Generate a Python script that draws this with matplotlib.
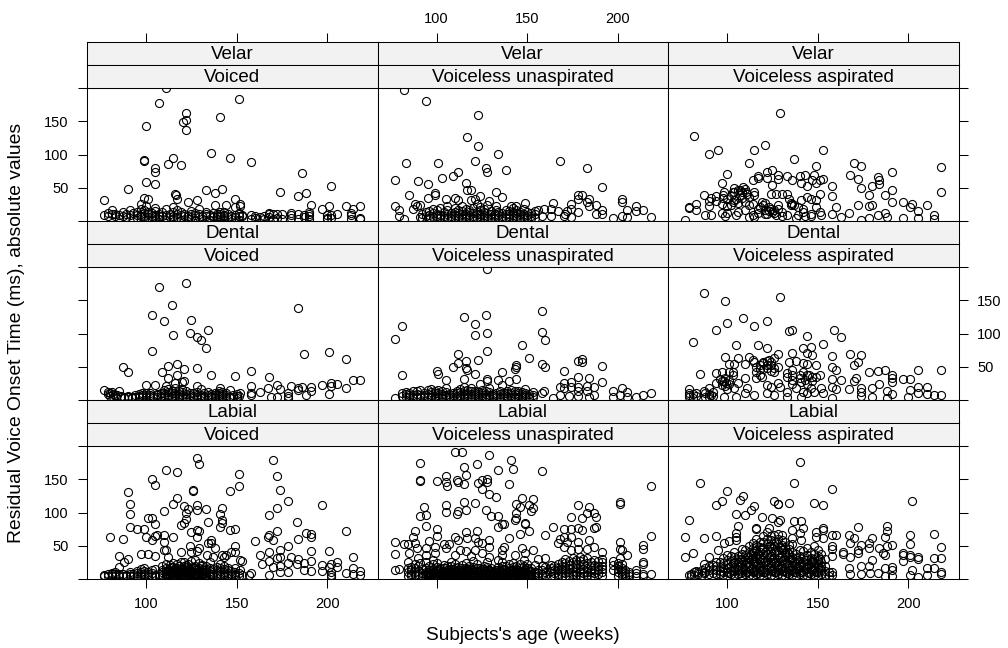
import matplotlib
matplotlib.use('Agg')
import matplotlib.pyplot as plt

plt.rcParams['font.family'] = ['Liberation Sans', 'DejaVu Sans']

places = ['Velar', 'Dental', 'Labial']
voicing = ['Voiced', 'Voiceless unaspirated', 'Voiceless aspirated']
x_ticks = [100, 150, 200]
y_ticks = [0, 50, 100, 150, 200]
y_labels = ['', '50', '100', '150', '']

velar_voiced = [(111,199.5),(107,178),(151,184),(122,162),(122,152),(120.6,149),(122,137),(141,157),(100,143.5),(136,103),(146,94.5),(158,89),(99,91),(99,90),(115,94),(112,85),(119,84),(105,79),(105,74),(186,71.5),(100,58),(105,55.5),(90,47.5),(133,46.5),(138,42.5),(142,48),(174,44),(188,42.5),(184,37.5),(202,52.5),(116,41),(116.4,39),(77,32),(99,35),(101,33.5),(149,33),(117,33),(123,29),(128,31),(97,26),(100,23),(138,23.5),(144,23.5),(149,21),(152,25),(152,22.5),(191,24),(210,22.5),(218,23),(201,22.5),(214,17.5),(197,17.5)]
velar_voiced_band = {77:[9],79:[8,12],81:[10,17],83:[7,11],85:[3,9],87:[8,13],89:[6,11],91:[9,16],93:[3,12],95:[5,9,13],97:[7,11,18],99:[3,8,12,16],101:[6,10,14],103:[2,8,12],105:[6,9,15,19],107:[3,8,11],109:[7,13],111:[2,9,18],113:[6,10],115:[3,8,14,21],117:[6,11,16],119:[2,9,13],121:[7,10],123:[3,8],125:[6,11,15],127:[2,9,12],129:[6,10,18],131:[3,8],133:[7,11,14],135:[2,9],137:[6,8,12],139:[3,7,10],141:[6,8,11,14],143:[2,7,9,13],145:[6,10],147:[3,7],149:[6,9],151:[2,8,12],153:[7,9],158:[3,9],160:[5,8],163:[6],165:[3,8],168:[6,10,12],170:[3,11],172:[5,11],175:[3,10],180:[5,9,12],184:[3,10],187:[6,9],190:[3,8,11,14],200:[5,3,9],202:[9,4],205:[10],213:[3,9,12],218:[5,3]}

velar_unasp = [(82,197.5),(94,180),(123,160),(117,127),(123,112.5),(134,101),(121,90.5),(127,79.5),(128,73),(138,77),(101,87.5),(83,86.5),(168,90),(183,80),(112,74),(109,67),(103,65),(77,62),(90,60),(95,55.5),(116,56.5),(117,46.5),(119,46.5),(191,51),(133,43.5),(85,39),(99,42.5),(99,38.5),(136,35.5),(124,37),(95,34),(105,32.5),(110,34),(112,31),(119,31),(121,33.5),(129,29.5),(178,39.5),(180,39.5),(184,32.5),(183,28.5),(178,32.5),(164,27),(174,26),(149,27),(202,32.5),(202,28.5),(210,22.5),(214,17),(210,15),(205,16.5),(188,24.5),(184,22),(191,16),(191,11),(188,10),(77,22.5),(79,17),(79,8),(88,26),(89,22),(91,23.5),(87,18.5),(91,6),(82,3.5),(178,13),(174,18.5),(174,6),(171,11),(170,7),(172,15),(163,18.5),(163,7),(167,14.5),(159,18.5),(156,16),(158,7),(141,22),(144,23),(133,23),(133,17),(218,5.5),(202,7),(205,5.5),(197,4)]
velar_unasp_band = {92:[5,10],94:[8,14],96:[4,9,15],98:[6,12,18],100:[4,7,11,16],102:[5,9,20],104:[4,8,13],106:[5,10,17,23],108:[4,7,12],110:[5,9,14,19],112:[4,8,12,16],114:[5,10,15,22],116:[4,7,11,18],118:[5,9,13,17],120:[4,8,12,20],122:[5,10,14,25],124:[4,7,11,16,21],126:[5,9,13,18],128:[4,8,12,24],130:[5,10,15],132:[4,7,11],134:[5,9,13],136:[4,8,12],138:[5,10,17],140:[4,7,11,15],142:[5,9,13,19],144:[4,8,12,16],146:[5,10,14],148:[4,7,11,18],150:[5,9,13],152:[4,8,12],154:[5,10,15]}

velar_asp = [(129,163),(82,128),(90,100.5),(95,107),(115,107),(121,114),(153,107),(112,87),(137,93),(170,87),(174,82),(149,82.5),(218,81.5),(191,73.5),(100,71),(97,57.5),(125,76),(122,73),(117,68),(117,64.5),(122,65),(114,61),(128,69),(128,62.5),(133,68),(136,61),(140,68),(143,68.5),(141,57.5),(148,68.5),(147,61),(151,61),(153,63),(149,57),(144,52),(125,53.5),(168,68.5),(172,63.5),(174,49.5),(178,39),(183,66),(184,61),(184,55.5),(180,52),(191,47),(187,39),(191,29),(197,28),(202,26),(201,21),(205,15.5),(210,24.5),(214,9.5),(218,44),(158,52),(158,38),(151,41),(160,20.5),(158,10.5),(167,12),(172,24.5),(178,22.5),(180,23.5),(187,12.5),(183,8.5),(188,6),(197,4.5),(205,4.5),(214,2.5),(174,1),(178,5),(163,5.5),(77,2),(79,21),(79,19),(83,25.5),(83,17),(88,9),(91,9.5),(87,39),(91,35),(94,37),(90,22),(90,30),(94,30),(98,38.5),(98.5,43.5),(97,25),(98,35),(97,12),(99,7),(100,12),(103,43.5),(104,50),(107,46),(109,51),(110,48.5),(110.5,43.5),(111,41),(115,43.5),(115,38.5),(103,28.5),(105,33.5),(107,38.5),(110,28.5),(110,16),(105,8.5),(114,26),(119,28.5),(120,23.5),(118,21),(121,16),(114,8.5),(115,6),(124,41),(127,41),(130,41),(133,41),(134,33.5),(136,26),(137,23.5),(141,31),(144,36),(146,33.5),(149,31),(128,23.5),(128,18.5),(124,18.5),(125,13.5),(122,11),(127,8.5),(133,8.5),(138,5),(142,18.5),(142,13.5),(143,7),(146,11),(149,21),(151,13.5),(152,8.5),(146,7)]
velar_asp_band = {100:[33,22],102:[38,24],104:[44,31],106:[47,27,14],108:[44,35],112:[36,24,6],117:[18,12],121:[27,11],123:[21,15],126:[16,12],130:[13,8],135:[27,24],139:[21,9]}

dental_voiced = [(122,176.5),(107,170.5),(114,143),(184,138.5),(103,128),(110,118.5),(125,120),(134,106),(115,97),(124,100.5),(128,94.5),(130,89.5),(133,78.5),(103,73.5),(187,69),(201,71.5),(210,61.5),(87,49),(90,41.5),(112,51),(117,54.5),(109,42.5),(121,46),(128,47.5),(112,33.5),(117,37.5),(136,37),(149,36),(158,43.5),(168,35),(121,28),(120,27.5),(116,26),(100,23),(105,22),(111,21),(128,21),(130,16),(141,18),(146,15),(158,20.5),(167,18),(172,23),(174,16.5),(180,21),(184,18),(184,15),(186,19.5),(191,19.5),(191,14),(197,23),(202,26),(205,24.5),(202,21),(210,18),(214,29.5),(218,30.5),(201,8.5),(163,11.5),(178,10),(178,6),(188,7.5),(169,4),(172,5),(178,3.5),(158,10),(158,7),(152,10),(151,6),(77,15.5),(79,12.5),(81,12.5),(85,14),(79,8.5),(83,7.5)]
dental_voiced_band = {80:[6,10],82:[5,9],84:[7],86:[4,6],88:[3,5],90:[4,6],92:[3,5],94:[5,7],96:[4,6,9],98:[5,8,11],100:[4,7,10],102:[5,8,11],104:[3,6],106:[4,7,9],108:[3,6,11],110:[4,7,10,15],112:[5,8,12,17],114:[3,6,10,14],116:[4,7,11,18],118:[3,6,9,13],120:[4,8,12,16],122:[3,5,9,14],124:[4,7,11],126:[3,6,10],128:[4,7,12],130:[3,5,8],132:[4,6,10],134:[3,7,12],136:[4,6,9],138:[3,5,8,11],140:[4,7,10,13],142:[3,6,9,12],144:[4,7,10],146:[3,5],148:[4,7],150:[3,6,9]}

dental_unasp = [(128,196.5),(158,133.5),(115,125.5),(127,128.5),(121,114.5),(81,111.5),(77,91),(121,98),(128,100.5),(158,102),(160,90),(147,83),(128,73.5),(112,69),(151,62.5),(123,59.5),(112,55.5),(116,58),(109,50),(116,47.5),(117,45),(100,44),(101,39),(81,38),(121,39),(144,52.5),(144,49),(143,46),(136,42.5),(158,54),(160,49),(170,43.5),(178,59),(180,61),(180,57.5),(191,50.5),(105,30),(115,31.5),(128,31.5),(128,29),(134,30),(140,29),(144,31.5),(124,23.5),(136,22),(178,34),(184,32.5),(174,27.5),(170,25),(168,20),(191,26.5),(187,20),(183,21),(178,20),(174,20),(178,13),(183,14),(170,17.5),(168,7.5),(173,6.5),(178,6.5),(184,5),(187,7.5),(197,13),(202,17.5),(205,12),(218,10.5),(214,7),(210,5),(197,4),(201,7.5),(205,5),(164,2.5),(158,11),(159,13.5),(149,17),(153,12)]
dental_unasp_band = {77:[3],81:[6,10],83:[5,9,12],85:[4,8,11],87:[5,7,13],89:[4,9,14],91:[5,8,15],93:[4,7,11],95:[5,9,15],97:[4,8,12,16],99:[3,6,10,14],101:[4,7,11,15],103:[3,6,9,13],105:[4,8,12,18],107:[3,5,9],109:[4,7,11],111:[3,6,10,14],113:[4,8,12,16],115:[3,6,9,13,19],117:[4,7,11,15],119:[3,5,9,13,18],121:[4,7,10,14],123:[3,6,9,12],125:[4,7,11,15],127:[3,5,9,13],129:[4,8,12,18],131:[3,6,9],133:[4,7,11],135:[3,5,9,14],137:[4,8,11],139:[3,6,10,13],141:[4,7,11,15],143:[3,5,9,13],145:[4,7,10,14],147:[3,6,9,12],149:[4,7,11],151:[3,5,9],153:[4,7]}

dental_asp = [(87,161.5),(99,149),(129,155.5),(109,123.5),(100,116),(94,106),(115,111.5),(122,118.5),(134,104.5),(136,105),(144,96.5),(159,106),(163,95),(81,86.5),(105,82),(117,82.5),(122,78.5),(153,84.5),(146,80),(142,78.5),(128,69.5),(136,71),(144,71),(147,67.5),(158,66.5),(168,69),(174,67.5),(99,65),(106,62.5),(112,64),(172,56.5),(170,52.5),(218,45.5),(205,44.5),(187,44.5),(183,43),(178,42.5),(85,38.5),(94,41),(97,41.5),(101,54),(104,54),(110,54.5),(114,60),(115,57.5),(120,57.5),(123,60),(124,52.5),(126,62.5),(128,50),(134,57.5),(138,58.5),(136,45),(133,40),(133,34),(142,55),(144,54),(149,52.5),(142,42.5),(145,37.5),(147,35),(151,37.5),(158,49),(160,45),(158,31),(163,30),(158,19),(160,16),(170,29),(171,32.5),(167,16.5),(191,37.5),(191,32.5),(191,26.5),(197,31.5),(201,31),(174,17.5),(174,12),(174,6),(180,17.5),(184,24),(188,14),(191,8.5),(201,15),(205,20),(210,20),(205,11),(210,8.5),(214,7.5),(218,7),(200,4),(180,4),(188,3.5),(158,2.5),(79,16),(79,7.5),(83,6),(87.5,14),(90,17.5),(91,7.5),(94,26),(96,31),(98.5,29),(99.5,25),(103,37.5),(103,42.5),(101,42.5),(110,33.5),(106,25),(104,17.5),(100,16),(98.5,4),(105,5),(110,10),(111,17.5),(115,7.5),(116,32.5),(118,37.5),(119,35),(122,22.5),(122,10),(124,20),(128,26),(129,20),(126,7.5),(133,12.5),(133,5),(136,30),(138,17.5),(141,27.5),(143,30),(142,12.5),(146,17.5),(144,10),(152,17.5),(153,11),(148,12.5),(141,4)]
dental_asp_band = {79:[4,11],81:[3,9],83:[10],88:[5,10],90:[4,9],92:[6,12],97:[22,28],99:[21,33],101:[24,30],116:[42,50],118:[46,53],120:[47,55],122:[48,52,58],124:[44,57],126:[42,48],136:[24,37],140:[33,38],144:[24,38],147:[28],149:[34]}

labial_voiced = [(128,182),(129,173.5),(111,164.5),(117,161),(103,150),(105,141.5),(170,179.5),(172,154.5),(151,157.5),(151,140),(146,132.5),(174,133.5),(126,133.5),(126,132.5),(90,130.5),(91,113),(91,98),(117,122.5),(115,113),(121,110.5),(128,111.5),(128,104.5),(133,105.5),(142,107),(123,106),(122,99.5),(110,103),(141,98),(178,117.5),(172,107),(168,95.5),(197,111),(101,92),(103,92),(105,82.5),(122,89.5),(121,84.5),(119,81),(134,85.5),(142,88.5),(142,83.5),(141,78),(183,85.5),(91,78),(95,74.5),(99,74.5),(125,71),(128,73.5),(129,72),(146,73),(149,75),(172,72),(210,72),(188,69),(191,67),(191,63),(184,60.5),(80,63),(87,60),(100,63),(103,58.5),(105,65),(106,66.5),(110,65.5),(115,63),(128,62.5),(110,55),(160,57),(167,63),(168,66),(170,58.5),(136,59),(134,53.5),(136,54.5),(138,47),(124,49),(129,46),(149,50),(149,41),(147,41),(178,49.5),(174,43.5),(168,41),(191,42.5),(201,42.5),(110,43),(111,43),(119,41),(125,41),(128,42.5),(97,37.5),(101,37.5),(105,34),(112,32.5),(85,34),(90,29.5),(88,25.5),(85,18.5),(133.5,36),(137,33.5),(142,36),(144,36),(143,33.5),(163,36),(172,31),(174,32.5),(180,32.5),(184,29.5),(191,27.5),(214,33.5),(152,28.5),(153,26.5),(168,27.5),(164,22),(170,18.5),(174,19.5),(178,24.5),(183,22),(187,23.5),(197,20.5),(205,25.5),(202,22.5),(201,18.5),(205,18.5),(214,16),(218,12),(210,9),(218,6.5),(214,7.5),(202,11),(202,6),(202,2.5),(197,12.5),(191,12.5),(187,13.5),(178,11),(174,10),(168,6),(158,9.5),(157,6.5),(152,13.5),(153,6)]
labial_voiced_band = {77:[4,6],79:[5,8],81:[4,7,9],83:[5,8,10],85:[4,7],87:[5,8],89:[4,6],91:[5,8,10],93:[4,7],95:[5,9,12],97:[4,7,11,15],99:[5,8,12,16],101:[4,7,10],103:[5,9,13],105:[4,6,15],107:[5,8],109:[6,10,14,19],111:[5,8,12,17,22],113:[4,7,11,16,21],115:[6,9,13,18,24],117:[5,8,12,16,22],119:[4,7,11,15,26],121:[6,10,14,19,25],123:[5,8,13,18,23],125:[4,7,11,16,27],127:[6,9,14,20,28],129:[5,8,12,17,24],131:[4,7,11,15,21],133:[6,10,14,19],135:[5,8,12,17,26],137:[4,7,11,15],139:[6,9,13,18],141:[5,8,12,16,22],143:[4,7,11,15,20],145:[6,9,13,17],147:[5,8,12],149:[4,7,11,16],151:[5,9],112:[3,7,13],114:[4,10,18],116:[3,9,15],118:[6,11,20],120:[3,8,16],122:[5,12,21],124:[3,9,14],126:[6,11,18],128:[3,8,15],130:[5,10,19],132:[3,9,13]}

labial_unasp = [(110,191.5),(114,191.5),(129,186.5),(141,178.5),(91,174.5),(122,173.5),(115,169),(142,165),(134,164),(158,162.5),(116,157),(105,155),(91,149.5),(91,148),(100,147),(105,146),(106,139.5),(111,149.5),(112,146),(115,143),(123,144),(125,149.5),(128,151),(128,146),(140,143),(125,136),(129,128),(133,124),(218,140.5),(147,122.5),(153,120),(115,116),(121,114.5),(144,113.5),(146,109),(151,111.5),(153,107.5),(152,102.5),(93,108),(105,111.5),(105,101.5),(116,104.5),(112,102.5),(111,98),(127,103.5),(201,116),(201,113.5),(178,111),(184,108),(183,99),(187,98.5),(188,93.5),(180,92),(174,93.5),(91,94.5),(94,95.5),(130,94),(134,94),(144,99.5),(144,92),(143,88.5),(136,82.5),(137,82.5),(134,78.5),(149,84.5),(149,83),(151,72),(164,78),(94,80),(100,75),(88,71.5),(87,63.5),(100,64),(116,70),(122,71.5),(117,61.5),(110,63),(121,62),(146,67),(140,61.5),(160,66),(170,75),(174,75),(178,76),(180,73),(187,76.5),(188,77.5),(170,63.5),(174,63.5),(178,56),(184,59),(168,59.5),(167,54),(172,56),(218,64.5),(201,55),(214,51),(214,44.5),(77,55),(77,37.5),(82,52),(84,52),(88,54.5),(96,57.5),(104,53),(112,58.5),(123,56),(125,54.5),(129,58.5),(129,47.5),(89,47),(94,47),(99,48.5),(105,46),(107,52),(113,43.5),(116,42),(121,43.5),(125,39.5),(137,48.5),(136,43.5),(147,47),(153,43.5),(149,39.5),(143,36),(85,39.5),(94,36),(99,38.5),(110,36),(136,36),(129,32.5),(119,34.5),(156,30),(160,31),(201,45),(202,43),(205,35.5),(201,31),(197,27.5),(191,41),(187,48.5),(183,45.5),(178,44.5),(170,47.5),(174,43.5),(214,25),(214,22.5),(84,26),(90,31),(91,24.5),(77,13),(79,14.5),(84,16)]
labial_unasp_band = {84:[5,10],86:[4,8,13,18],88:[6,11,16,22],90:[4,8,12,19],92:[5,9,15],94:[4,7,11,17,25],96:[5,8,13,20],98:[4,7,10,15,22,29],100:[5,9,13,18,24],102:[4,7,11,16],104:[5,8,12,17,21],106:[4,6,10,14,19],108:[5,8,11,15,20,26],110:[4,7,10,13,17,23],112:[5,8,11,14,18],114:[4,6,9,12,16,21],116:[5,7,10,13,17,24],118:[4,6,9,12,15,20],120:[5,8,11,14,18,27],122:[4,6,9,12,16,22],124:[5,7,10,13,17],126:[4,6,9,12,15,19],128:[5,8,11,14,18,25],130:[4,6,9,12,16],132:[5,7,10,14],134:[4,6,9,13,18,29],136:[5,8,11,15,20,26],138:[4,7,10,14,19],140:[5,8,12,16,22],142:[4,6,9,13,18,24],144:[5,7,11,15,20],146:[4,8,12,17,23],148:[5,7,10,14,19,28],150:[4,6,9,13,17,22],152:[5,8,12,16],154:[4,7,11,21],156:[5,9,14],158:[4,8,13,19],160:[5,10,18],163:[4,12,16,21],165:[5,9,14,19],167:[4,8,13,17,22],169:[5,10,15,20,26],171:[4,9,13,18,24,30],173:[5,10,16,21,27],175:[4,8,12,18,25,32],177:[6,11,16,22,29],179:[5,10,14,20,27,33],181:[4,9,15,22,30],183:[6,11,17,24,31],185:[5,10,13,19,26],187:[4,9,14,21,29],189:[7,13,20,27],191:[5,10,15,20,25,30],197:[14,21],200:[5,10,15,20,24],202:[4,8,12,17,22],204:[5,9,13],206:[4,7,11],210:[5,9,13],214:[4,8],218:[7],95:[3,6,10],97:[4,8,14],99:[3,6,11],101:[4,9,15],103:[3,7,12],105:[5,10,16],107:[3,7,13],109:[4,9,15],111:[3,6,12],113:[4,8,14],115:[3,6,11],117:[4,9,15],119:[3,7,13],121:[4,8,12],123:[3,6,11],125:[4,9,15],127:[3,7,12],129:[4,8,14],131:[3,6,11],133:[4,9,13],135:[3,7,12],137:[4,8,15],139:[3,6,11],141:[4,9,13],143:[3,7,12],145:[4,8,14],147:[3,6,11],149:[4,9,15],151:[3,7,12]}

labial_asp = [(140,176.5),(85,144),(137,145),(158,136),(100,132),(109,125.5),(107,118.5),(97,117.5),(94,111),(115,109.5),(113,103.5),(126,118),(128,113.5),(128,112.5),(134,114),(148,115),(153,111.5),(202,118),(105,97.5),(110,95.5),(119,93.5),(125,91),(129,88.5),(128,86),(137,87.5),(141,87.5),(79,88.5),(106,80),(116,77),(123,76),(116,75),(122,71),(136,73.5),(142,76),(140,69.5),(153,76),(153,73.5),(149,71),(172,77.5),(188,79.5),(188,72.5),(187,63.5),(77,63),(87,62),(94,65),(98.5,54.5),(101,57),(105,68.5),(105,63.5),(105,58.5),(158,66),(160,66),(153,61),(149,63.5),(141,58.5),(136,61),(167,66.5),(170,61),(180,61),(168,53.5),(174,51),(178,53.5),(178,46),(172,43.5),(172,38.5),(184,46),(188,49.5),(191,51),(187,36),(186,38.5),(201,66),(201,52),(214,67),(218,48.5),(164,41),(164,37.5),(168,33.5),(158,49.5),(158,44.5),(158,34.5),(77,32.5),(81,38.5),(90,32.5),(95,43.5),(197,38.5),(197,36),(197,27.5),(201,36),(201,33.5),(205,32.5),(205,29.5),(214,31),(218,31),(210,16),(214,16),(218,10),(218,7),(210,6),(202,13.5),(201,6),(205,3.5),(180,28.5),(178,19.5),(174,19.5),(167,16),(158,10),(158,6),(168,7),(174,7),(179,8.5),(183,8.5),(187,16),(191,18.5),(191,13.5),(191,4.5),(187,4.5),(79,6),(83,12.5),(87,22.5),(87.5,8.5)]
labial_asp_band = {80:[5,7],82:[6,10],84:[8,11],86:[6,13],88:[11,16],90:[7,13,20],92:[9,15,21],94:[8,14,19,26],96:[7,12,18,25],98:[6,11,17,24,31],100:[5,10,16,22,29,36],102:[8,14,20,27,34],104:[6,12,18,25,33,40],106:[7,13,19,26,35],108:[5,11,17,23,30,38,45],110:[8,14,21,28,36,44],112:[6,12,19,26,33,41,50],114:[5,10,16,23,31,39,47,54],116:[7,13,20,27,35,43,51,60],118:[6,12,18,25,32,40,48,56],120:[5,11,17,24,31,38,46,55,64],122:[8,14,21,29,37,45,53,60],124:[6,12,19,26,34,42,50,58,65],126:[5,10,17,24,32,40,49,57,66],128:[7,13,20,28,36,44,52,60,68],130:[6,12,19,27,35,43,51,59,66],132:[5,11,18,25,33,41,48,56],134:[8,14,21,29,37,45,51],136:[6,12,19,27,33,40,52],138:[5,11,17,24,31,38],140:[7,13,20,27,35,44],142:[6,12,19,26,33,42],144:[5,10,16,22,29,36,47],146:[7,13,19,25,32,41],148:[6,12,18,24,30,38,50],150:[5,11,17,23,29,35,44],152:[7,13,19,26,37],154:[6,12,20,30],156:[5,10],101:[9,18],103:[13,24],107:[9,21,30],109:[14,27],111:[10,24,33],113:[15,29,38],115:[12,25,42],117:[9,23,37],119:[14,29,46],121:[11,27,41],123:[16,33,50],125:[13,29,47],127:[10,25,42,56],129:[15,31,48],131:[12,28,45],133:[9,24,40],135:[14,30],137:[11,25],139:[16,29],141:[10,23],143:[15,28],145:[9,21],147:[14,27],149:[10,24],151:[16,30]}

panel_sparse = [[velar_voiced, velar_unasp, velar_asp],
                [dental_voiced, dental_unasp, dental_asp],
                [labial_voiced, labial_unasp, labial_asp]]
panel_band = [[velar_voiced_band, velar_unasp_band, velar_asp_band],
              [dental_voiced_band, dental_unasp_band, dental_asp_band],
              [labial_voiced_band, labial_unasp_band, labial_asp_band]]

W, H = 1008, 648
left = [87, 377.5, 668]
panel_w = 290.5
top_strip = [42, 221, 400]
strip_h = 23
panel_h = 133


def px_axes(x0, y0, w, h):
    return fig.add_axes([x0 / W, 1 - (y0 + h) / H, w / W, h / H])


fig = plt.figure(figsize=(W / 100, H / 100), dpi=100)
for r in range(3):
    for c in range(3):
        y_panel = top_strip[r] + 2 * strip_h
        ax = px_axes(left[c], y_panel, panel_w, panel_h)
        ages = [p[0] for p in panel_sparse[r][c]]
        vots = [p[1] for p in panel_sparse[r][c]]
        for a, vals in panel_band[r][c].items():
            ages += [a] * len(vals)
            vots += vals
        ax.plot(ages, vots, 'o', mfc='none', mec='k', ms=5.8, mew=0.8)
        ax.set_xlim(67.4, 227.6)
        ax.set_ylim(0, 200)
        ax.tick_params(length=6.3, width=0.75, labelsize=10.5, direction='out')
        for s in ax.spines.values():
            s.set_linewidth(0.75)

        # tick sides alternate like a lattice plot, 0 and 200 have a tick but no label
        ax.set_xticks(x_ticks if r == 2 else [])
        ax.tick_params(axis='x', pad=7, labelbottom=(c != 1))
        ax.set_yticks(y_ticks, y_labels)
        ax.tick_params(axis='y', left=(c == 0), right=(c == 2), labelleft=(c == 0 and r != 1),
                       labelright=(c == 2 and r == 1), pad=7)

        names = [places[r], voicing[c]]
        for k in range(2):
            st = px_axes(left[c], top_strip[r] + k * strip_h, panel_w, strip_h)
            st.set_facecolor('#f2f2f2')
            st.set_xlim(67.4, 227.6)
            st.set_yticks([])
            st.set_xticks([])
            for s in st.spines.values():
                s.set_linewidth(0.75)
            st.text(0.5, 0.47, names[k], transform=st.transAxes, ha='center', va='center', fontsize=13.5)
            if r == 0 and k == 0:
                st.xaxis.tick_top()
                st.set_xticks(x_ticks)
                st.tick_params(axis='x', length=6.3, width=0.75, labelsize=10.5, pad=5, labeltop=(c == 1))

fig.text(523 / W, 1 - 635 / H, "Subjects's age (weeks)", ha='center', va='center', fontsize=13.7)
fig.text(17 / W, 1 - 333 / H, 'Residual Voice Onset Time (ms), absolute values', rotation=90,
         ha='center', va='center', fontsize=13.9)
fig.savefig('out.png', dpi=100)
